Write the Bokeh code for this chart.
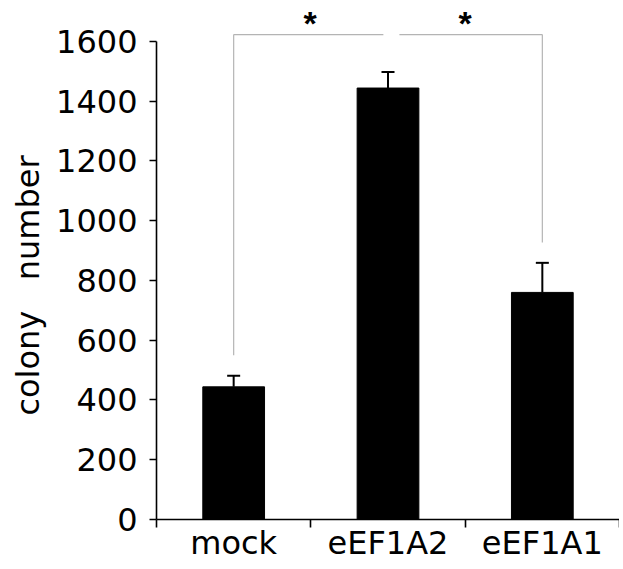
from bokeh.plotting import figure
from bokeh.models import Range1d, FixedTicker, ColumnDataSource, Whisker, TeeHead
from bokeh.core.properties import value
from bokeh.embed import file_html
from bokeh.resources import INLINE

# ---- data ----
categories = ["mock", "eEF1A2", "eEF1A1"]
colonies = [444, 1444, 760]
errors = [37, 54, 99]
y_ticks = [0, 200, 400, 600, 800, 1000, 1200, 1400, 1600]
y_label = "colony\u00a0\u00a0\u00a0number\u00a0\u00a0\u00a0\u00a0\u00a0"

# significance brackets: (from category, to category), leg bottom value
bracket_from = ["mock", "eEF1A1"]
bracket_to = ["eEF1A2", "eEF1A2"]
bracket_leg_bottom = [550, 927]
bracket_top = 1623
star_y = 1661
stars = ["*", "*"]

FONT = "DejaVu Sans"
FS = "32px"
STAR_SHIFT = [0.01, -0.037]

xs = [i + 0.5 for i in range(len(categories))]
pos = {c: x for c, x in zip(categories, xs)}

src = ColumnDataSource(dict(
    x=xs,
    top=colonies,
    upper=[v + e for v, e in zip(colonies, errors)],
    lower=colonies,
))

p = figure(width=619, height=565, output_backend="svg", toolbar_location=None,
           x_range=Range1d(0, len(categories)), y_range=Range1d(0, 1737),
           min_border_left=156, min_border_right=0, min_border_top=0,
           min_border_bottom=46, outline_line_color=None,
           background_fill_color="white", border_fill_color="white")
p.xgrid.visible = False
p.ygrid.visible = False

p.vbar(x="x", top="top", width=0.4, color="black", source=src)

p.add_layout(Whisker(base="x", upper="upper", lower="lower", source=src,
                     dimension="height", line_width=2, line_color="black",
                     upper_head=TeeHead(size=13, line_width=2, line_color="black"),
                     lower_head=None))

# brackets
gap_left, gap_right = 0.03, 0.074
seg_x0, seg_x1, seg_y0, seg_y1 = [], [], [], []
star_x = []
for a, b, bot, sh in zip(bracket_from, bracket_to, bracket_leg_bottom, STAR_SHIFT):
    xa, xb = pos[a], pos[b]
    if xa < xb:
        end = xb - gap_left
        hx0, hx1 = xa, end
    else:
        end = xb + gap_right
        hx0, hx1 = end, xa
    seg_x0 += [hx0, xa]
    seg_x1 += [hx1, xa]
    seg_y0 += [bracket_top, bracket_top]
    seg_y1 += [bracket_top, bot]
    star_x.append((hx0 + hx1) / 2 + sh)
p.segment(x0=seg_x0, y0=seg_y0, x1=seg_x1, y1=seg_y1,
          line_color="#b4b4b4", line_width=1.2)

p.text(x=star_x, y=[star_y] * len(star_x), text=stars,
       text_font=value("Liberation Sans"), text_font_style="bold", text_font_size="34px",
       text_align="center", text_baseline="alphabetic", text_color="black")

# y axis
ya = p.yaxis[0]
ya.ticker = FixedTicker(ticks=y_ticks, minor_ticks=[])
ya.bounds = (0, 1600)
ya.axis_line_width = 1.6
ya.major_tick_line_width = 1.6
ya.major_tick_in = 0
ya.major_tick_out = 7
ya.minor_tick_out = 0
ya.minor_tick_in = 0
ya.major_label_text_font = FONT
ya.major_label_text_font_size = FS
ya.major_label_text_color = "black"
ya.major_label_standoff = 12
ya.axis_label = y_label
ya.axis_label_text_font = FONT
ya.axis_label_text_font_size = FS
ya.axis_label_text_font_style = "normal"
ya.axis_label_text_color = "black"
ya.axis_label_standoff = 6

# x axis: ticks at category boundaries, names centred under bars
xa_ = p.xaxis[0]
xa_.ticker = FixedTicker(ticks=xs, minor_ticks=list(range(len(categories) + 1)))
xa_.major_label_overrides = {x: c for x, c in zip(xs, categories)}
xa_.axis_line_width = 1.6
xa_.major_tick_line_color = None
xa_.major_tick_in = 0
xa_.major_tick_out = 0
xa_.minor_tick_in = 0
xa_.minor_tick_out = 8
xa_.minor_tick_line_color = "black"
xa_.minor_tick_line_width = 1.6
xa_.major_label_text_font = FONT
xa_.major_label_text_font_size = FS
xa_.major_label_text_color = "black"
xa_.major_label_standoff = -4

open("out.html", "w").write(file_html(p, INLINE))
